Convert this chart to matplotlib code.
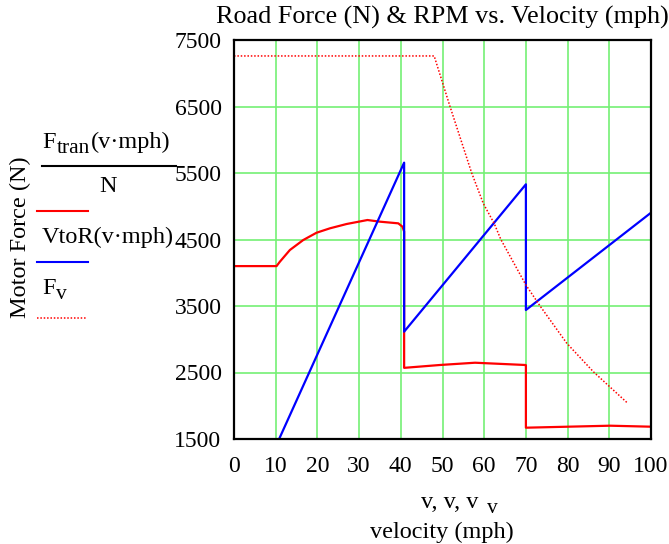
import numpy as np
import matplotlib
matplotlib.use('Agg')
import matplotlib.pyplot as plt

plt.rcParams['font.family'] = ['Liberation Serif', 'DejaVu Serif']

# transmission force at wheels (N) vs speed (mph)
speed_tran = [0, 10.2, 11.0, 13.4, 16.6, 19.8, 23.0, 27.0, 32.0, 35.0, 39.4, 40.4, 40.8,
              40.8, 49.4, 57.8, 69.8, 70.0, 70.0, 90.2, 100]
force_tran = [4100, 4100, 4166, 4342, 4492, 4602, 4668, 4733, 4793, 4768, 4743, 4692, 4620,
              2570, 2613, 2647, 2613, 2610, 1670, 1700, 1685]

# motor rpm vs speed
speed_rpm = [0, 40.8, 40.8, 70.0, 70.0, 100]
rpm = [0, 5656, 3114, 5330, 3440, 4903]

# road force limit F_v
speed_fv = [0, 48.0, 49.8, 51.8, 57.0, 59.8, 62.4, 64.0, 70.0, 73.4, 79.8, 86.2, 94.2]
force_fv = [7260, 7260, 6900, 6500, 5500, 5040, 4740, 4500, 3816, 3500, 2940, 2510, 2050]

xticks = np.arange(0, 101, 10)
yticks = np.arange(1500, 7501, 1000)

W, H = 669, 544
fig = plt.figure(figsize=(W / 100, H / 100), dpi=100)
ax = fig.add_axes([234 / W, 1 - 439 / H, (651 - 234) / W, (439 - 40) / H])

grid_col = '#74f074'
for x in xticks:
    ax.axvline(x, color=grid_col, lw=1.2, zorder=1)
for y in yticks:
    ax.axhline(y, color=grid_col, lw=1.2, zorder=1)

ax.plot(speed_tran, force_tran, color='red', lw=1.6, zorder=3)
ax.plot(speed_rpm, rpm, color='blue', lw=1.6, zorder=4)
ax.plot(speed_fv, force_fv, color='red', lw=1.1, ls=(0, (1, 1.2)), zorder=5)

ax.set_xlim(0, 100)
ax.set_ylim(1500, 7500)
ax.set_xticks(xticks)
ax.set_yticks(yticks)
ax.tick_params(length=0, labelsize=17)
ax.tick_params(axis='x', pad=12)
ax.tick_params(axis='y', pad=9)
for s in ax.spines.values():
    s.set_linewidth(1.6)
    s.set_zorder(6)

fs = 17.5
sub = 15.5


def px(x, y):
    return x / W, 1 - y / H


def t(x, y, s, size=fs, **kw):
    fig.text(*px(x, y), s, fontsize=size, **kw)


t(442, 17, 'Road Force (N) & RPM vs. Velocity (mph)', size=18.8, ha='center', va='center')

# x axis titles
t(421, 508, 'v, v, v', ha='left', va='baseline')
t(487, 513, 'v', size=sub, ha='left', va='baseline')
t(442, 532, 'velocity (mph)', ha='center', va='center')
t(20, 237, 'Motor Force (N)', rotation=90, ha='center', va='center')

# Mathcad style legend on the left
t(42, 148, 'F', ha='left', va='baseline')
t(57, 153, 'tran', size=sub, ha='left', va='baseline')
t(91, 148, '(v\u00b7mph)', ha='left', va='baseline')
fig.add_artist(plt.Line2D([42 / W, 176 / W], [1 - 166 / H] * 2, color='black', lw=1.5))
t(108, 187, 'N', ha='center', va='center')
fig.add_artist(plt.Line2D([37 / W, 88 / W], [1 - 211 / H] * 2, color='red', lw=1.5))
t(42, 243, 'VtoR(v\u00b7mph)', ha='left', va='baseline')
fig.add_artist(plt.Line2D([37 / W, 88 / W], [1 - 262 / H] * 2, color='blue', lw=1.5))
t(42, 294, 'F', ha='left', va='baseline')
t(56, 299, 'v', size=sub, ha='left', va='baseline')
fig.add_artist(plt.Line2D([37 / W, 86 / W], [1 - 318 / H] * 2, color='red', lw=1.1,
                          ls=(0, (1, 1.2))))

fig.savefig('out.png', dpi=100)
